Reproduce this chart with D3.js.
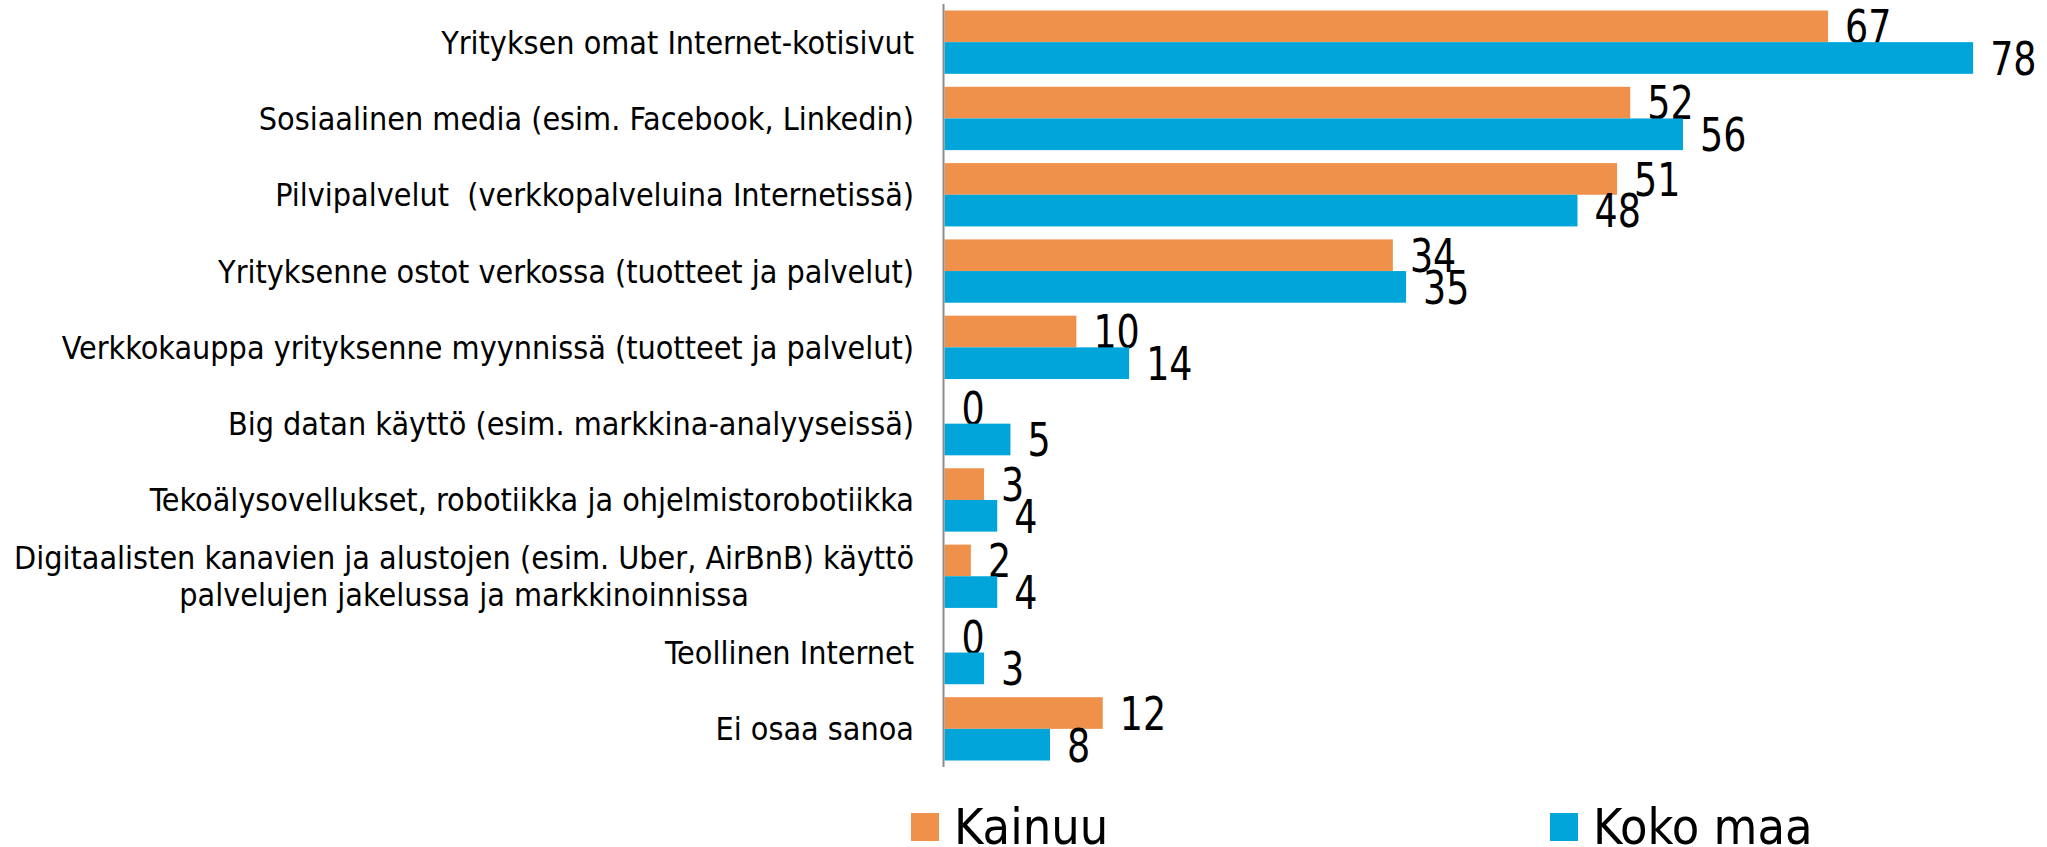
<!DOCTYPE html>
<html>
<head>
<meta charset="utf-8">
<script src="https://cdn.jsdelivr.net/npm/d3@7"></script>
<style>
  body { margin: 0; background: #fff; }
  text { font-family: "DejaVu Sans Condensed", "DejaVu Sans", sans-serif; fill: #000; }
  .cat-label { font-size: 32px; white-space: pre; }
  .value-label { font-size: 46px; }
  .legend-label { font-size: 50px; }
</style>
</head>
<body>
<svg id="chart"></svg>
<script>
// Categories top to bottom (multi-line labels split with \n)
const categories = [
    'Yrityksen omat Internet-kotisivut',
    'Sosiaalinen media (esim. Facebook, Linkedin)',
    'Pilvipalvelut  (verkkopalveluina Internetissä)',
    'Yrityksenne ostot verkossa (tuotteet ja palvelut)',
    'Verkkokauppa yrityksenne myynnissä (tuotteet ja palvelut)',
    'Big datan käyttö (esim. markkina-analyyseissä)',
    'Tekoälysovellukset, robotiikka ja ohjelmistorobotiikka',
    'Digitaalisten kanavien ja alustojen (esim. Uber, AirBnB) käyttö\npalvelujen jakelussa ja markkinoinnissa',
    'Teollinen Internet',
    'Ei osaa sanoa'
];

const seriesNames = ['Kainuu', 'Koko maa'];
const kainuu = [67, 52, 51, 34, 10, 0, 3, 2, 0, 12];
const kokoMaa = [78, 56, 48, 35, 14, 5, 4, 4, 3, 8];
const colors = ['#F0914B', '#02A5D9'];

const config = {
    width: 2047,
    height: 847,
    axisX: 944.5,
    plotTop: 4,
    plotBottom: 767,
    xMax: 80,
    xMaxPx: 1999.5
};

const data = categories.map((c, i) => ({ category: c, values: [kainuu[i], kokoMaa[i]] }));

const svg = d3.select('#chart')
    .attr('width', config.width)
    .attr('height', config.height);

// Scales
const yScale = d3.scaleBand()
    .domain(categories)
    .range([config.plotTop, config.plotBottom])
    .paddingInner(0.17)
    .paddingOuter(0.085);

const ySub = d3.scaleBand()
    .domain(seriesNames)
    .range([0, yScale.bandwidth()]);

const xScale = d3.scaleLinear()
    .domain([0, config.xMax])
    .range([config.axisX, config.xMaxPx]);

// Bars
const groups = svg.selectAll('.group')
    .data(data)
    .join('g')
    .attr('class', 'group')
    .attr('transform', d => `translate(0,${yScale(d.category)})`);

const cells = groups.selectAll('.cell')
    .data(d => d.values.map((v, j) => ({ series: seriesNames[j], value: v, idx: j })))
    .join('g')
    .attr('class', 'cell');

cells.append('rect')
    .attr('x', xScale(0))
    .attr('y', d => ySub(d.series))
    .attr('width', d => xScale(d.value) - xScale(0))
    .attr('height', ySub.bandwidth())
    .attr('fill', d => colors[d.idx]);

// Value labels sit just right of the bar, baseline at bar bottom.
// Digits in the original are narrow, so squeeze horizontally a bit.
cells.append('text')
    .attr('class', 'value-label')
    .attr('transform', d => `translate(${xScale(d.value) + 17},${ySub(d.series) + ySub.bandwidth() + 1}) scale(0.88,1)`)
    .text(d => d.value);

// Category axis line
svg.append('line')
    .attr('x1', config.axisX - 1)
    .attr('x2', config.axisX - 1)
    .attr('y1', config.plotTop)
    .attr('y2', config.plotBottom)
    .attr('stroke', '#8c8c8c')
    .attr('stroke-width', 2);

// Category labels, right aligned; multi-line labels centred on the widest line
const labelRight = 914;
const lineHeight = 37;
categories.forEach(c => {
    const lines = c.split('\n');
    const cy = yScale(c) + yScale.bandwidth() / 2;
    const t = svg.append('text')
        .attr('class', 'cat-label');
    if (lines.length === 1) {
        t.attr('x', labelRight)
            .attr('y', cy)
            .attr('dy', '0.36em')
            .attr('text-anchor', 'end')
            .text(c);
    } else {
        // measure the widest line to centre the block
        const probe = svg.append('text').attr('class', 'cat-label').text(lines[0]);
        const w = probe.node().getComputedTextLength();
        probe.remove();
        const centerX = labelRight - w / 2;
        const y0 = cy - (lines.length - 1) * lineHeight / 2;
        t.attr('text-anchor', 'middle');
        lines.forEach((ln, k) => {
            t.append('tspan')
                .attr('x', centerX)
                .attr('y', y0 + k * lineHeight)
                .attr('dy', '0.36em')
                .text(ln);
        });
    }
});

// Legend
const legendX = [911, 1550];
const legend = svg.selectAll('.legend')
    .data(seriesNames)
    .join('g')
    .attr('class', 'legend')
    .attr('transform', (d, i) => `translate(${legendX[i]},813)`);

legend.append('rect')
    .attr('width', 28)
    .attr('height', 28)
    .attr('fill', (d, i) => colors[i]);

legend.append('text')
    .attr('class', 'legend-label')
    .attr('x', 43)
    .attr('y', 31)
    .text(d => d);
</script>
</body>
</html>
